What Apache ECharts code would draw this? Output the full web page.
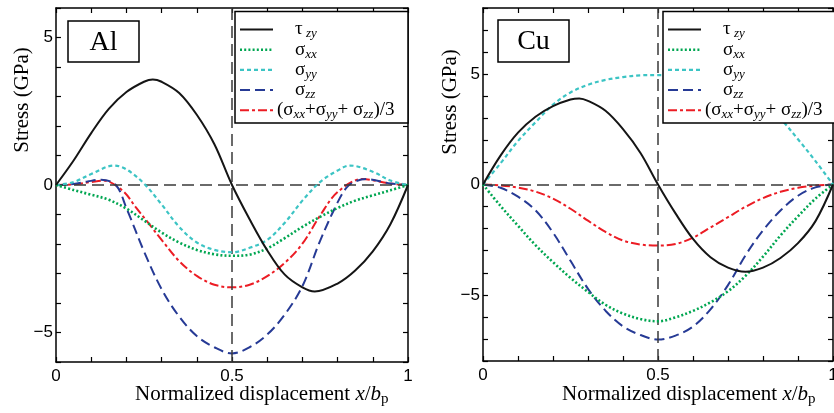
<!DOCTYPE html>
<html><head><meta charset="utf-8">
<script src="https://cdn.jsdelivr.net/npm/echarts@6/dist/echarts.min.js"></script>
<style>html,body{margin:0;padding:0;background:#fff}#c{width:834px;height:413px}</style>
</head><body><div id="c"></div>
<script>
// ---- data ----
// common abscissa (normalized displacement x/b_p)
const X = [0,0.05,0.1,0.15,0.2,0.25,0.3,0.35,0.4,0.45,0.5,0.55,0.6,0.65,0.7,0.75,0.8,0.85,0.9,0.95,1];

// Al panel
const xTauAl  = [0,0.05,0.1,0.15,0.2,0.25,0.275,0.3,0.35,0.4,0.45,0.5,0.55,0.6,0.65,0.7,0.735,0.8,0.85,0.9,0.95,1];
const tauAl   = [0,0.83,1.76,2.58,3.15,3.5,3.58,3.5,3.12,2.38,1.38,0,-1.16,-2.21,-3.04,-3.47,-3.61,-3.34,-2.9,-2.25,-1.33,0];
const sxxAl   = [0,-0.17,-0.33,-0.5,-0.8,-1.2,-1.61,-1.95,-2.2,-2.35,-2.4,-2.36,-2.15,-1.8,-1.42,-1.08,-0.78,-0.53,-0.35,-0.18,0];
const xSyyAl  = [0,0.05,0.1,0.165,0.2,0.25,0.3,0.35,0.4,0.45,0.5,0.55,0.6,0.65,0.7,0.75,0.8,0.835,0.9,0.95,1];
const syyAl   = [0,0.1,0.37,0.66,0.53,0.05,-0.66,-1.42,-1.95,-2.2,-2.28,-2.13,-1.86,-1.28,-0.53,0.1,0.49,0.66,0.45,0.15,0];
const xSzzAl  = [0,0.05,0.09,0.128,0.17,0.2,0.25,0.3,0.35,0.4,0.45,0.5,0.55,0.6,0.65,0.7,0.75,0.8,0.826,0.85,0.883,0.95,1];
const szzAl   = [0,0.03,0.12,0.18,0,-0.78,-2.25,-3.53,-4.46,-5.12,-5.5,-5.71,-5.5,-5.07,-4.39,-3.43,-1.9,-0.59,-0.08,0.12,0.2,0.05,0];
const xMeanAl = [0,0.05,0.1,0.135,0.19,0.227,0.265,0.3,0.35,0.4,0.45,0.5,0.55,0.6,0.65,0.7,0.75,0.8,0.87,0.95,1];
const meanAl  = [0,0.02,0.1,0.15,-0.2,-0.76,-1.33,-1.86,-2.58,-3.08,-3.38,-3.47,-3.38,-3.09,-2.64,-1.99,-1.04,-0.24,0.2,0.05,0];

// Cu panel
const xTauCu  = [0,0.05,0.1,0.15,0.2,0.25,0.275,0.3,0.35,0.4,0.45,0.5,0.55,0.6,0.65,0.7,0.75,0.8,0.85,0.9,0.95,1];
const tauCu   = [0,1.31,2.35,3.07,3.55,3.85,3.9,3.79,3.34,2.51,1.43,0,-1.31,-2.47,-3.3,-3.77,-3.96,-3.77,-3.33,-2.66,-1.66,0];
const sxxCu   = [0,-0.97,-1.87,-2.75,-3.52,-4.23,-4.87,-5.45,-5.85,-6.1,-6.2,-6.02,-5.73,-5.34,-4.84,-4.14,-3.27,-2.31,-1.44,-0.64,0];
const syyCu   = [0,0.96,1.97,2.82,3.62,4.17,4.52,4.74,4.87,4.95,4.96,4.95,4.88,4.77,4.55,4.18,3.65,2.98,2.05,1.06,0];
const szzCu   = [0,-0.15,-0.55,-1.17,-2.18,-3.46,-4.73,-5.72,-6.43,-6.82,-7.03,-6.85,-6.44,-5.66,-4.56,-3.21,-2.08,-1.18,-0.51,-0.13,0];
const meanCu  = [0,-0.04,-0.14,-0.32,-0.64,-1.1,-1.64,-2.15,-2.54,-2.72,-2.77,-2.7,-2.41,-1.95,-1.48,-1.01,-0.62,-0.33,-0.15,-0.05,0];

const seriesNames = ['τ zy','σxx','σyy','σzz','(σxx+σyy+σzz)/3'];
const legendLabels = [
  '{m|τ} {s|zy}',
  '{m|σ}{s|xx}',
  '{m|σ}{s|yy}',
  '{m|σ}{s|zz}',
  '{m|(σ}{s|xx}{m|+σ}{s|yy}{m|+ σ}{s|zz}{m|)/3}'
];
const panelNames = ['Al','Cu'];
const yRanges = [[-6,6],[-8,8]];
const xTickLabels = ['0','0.5','1'];
const yTickLabels = [-5,0,5];

// ---- styles ----
const SERIF = 'Liberation Serif';
const SANS = 'Liberation Sans';
const colors = ['#151515','#00a651','#3cc4c4','#263a95','#ec1c24'];
const widths = [2,2.6,2.2,2,2];
const dashes = [null,[2,2.2],[4,3],[10,5],[9,3,3,3]];

const grids = [
  {left:56, top:8, width:352, height:354},
  {left:483, top:8, width:350, height:353}
];

function xFmt(v){
  const s = String(Math.round(v*10)/10);
  return xTickLabels.indexOf(s) >= 0 ? s : '';
}
function yFmt(v){
  if (yTickLabels.indexOf(v) < 0) return '';
  return v < 0 ? '\u2212' + (-v) : String(v);
}

const xAxis = [], yAxis = [], series = [];
const axLine = {show:true, onZero:false, lineStyle:{color:'#000', width:1.5}};
const axTick = {show:true, inside:true, length:5, lineStyle:{color:'#000', width:1.2}};
grids.forEach((g, gi) => {
  xAxis.push({type:'value', gridIndex:gi, min:0, max:1, interval:0.1, position:'bottom',
    axisLine:axLine, axisTick:axTick, splitLine:{show:false},
    axisLabel:{formatter:xFmt, fontFamily:SANS, fontSize:17, color:'#000', margin:6, showMinLabel:true, showMaxLabel:true, hideOverlap:false}});
  xAxis.push({type:'value', gridIndex:gi, min:0, max:1, interval:0.1, position:'top',
    axisLine:axLine, axisTick:axTick, splitLine:{show:false}, axisLabel:{show:false}});
  const r = yRanges[gi];
  yAxis.push({type:'value', gridIndex:gi, min:r[0], max:r[1], interval:1, position:'left',
    axisLine:axLine, axisTick:axTick, splitLine:{show:false},
    axisLabel:{formatter:yFmt, fontFamily:SANS, fontSize:17, color:'#000', margin:3, showMinLabel:true, showMaxLabel:true, hideOverlap:false}});
  yAxis.push({type:'value', gridIndex:gi, min:r[0], max:r[1], interval:1, position:'right',
    axisLine:axLine, axisTick:axTick, splitLine:{show:false}, axisLabel:{show:false}});
});

const panelData = [
  [[xTauAl, tauAl], [X, sxxAl], [xSyyAl, syyAl], [xSzzAl, szzAl], [xMeanAl, meanAl]],
  [[xTauCu, tauCu], [X, sxxCu], [X, syyCu], [X, szzCu], [X, meanCu]]
];
panelData.forEach((arrs, gi) => {
  arrs.forEach((pair, si) => {
    const xs = pair[0], ys = pair[1];
    const s = {
      name: seriesNames[si] + ' ' + panelNames[gi],
      type:'line', xAxisIndex: gi*2, yAxisIndex: gi*2,
      data: xs.map((x, i) => [x, ys[i]]),
      smooth: 0.35, symbol:'none', silent:true, z: 7 - si,
      lineStyle:{color:colors[si], width:widths[si], type: dashes[si] || 'solid', cap:'butt'}
    };
    if (si === 0) {
      s.markLine = {silent:true, symbol:['none','none'], label:{show:false},
        lineStyle:{color:'#3a3a3a', width:1.5, type:[12,6]},
        data:[{yAxis:0},{xAxis:0.5}]};
    }
    series.push(s);
  });
});

// ---- text / legend graphics ----
const rich = {
  m:{fontFamily:SERIF, fontSize:19, fill:'#000', color:'#000'},
  s:{fontFamily:SERIF, fontSize:13, fontStyle:'italic', fill:'#000', color:'#000', padding:[9,0,0,0]}
};
const graphic = [];
const legendBoxes = [{x:235, y:11.5, w:173, h:111.5},{x:663, y:11.5, w:172, h:111.5}];
const labelBoxes = [{x:68, y:21, w:71, h:41},{x:498, y:20, w:71, h:42}];
const yTitlePos = [{x:22, y:100},{x:450, y:102}];
const xTitlePos = [{x:135, y:394},{x:562, y:394}];

legendBoxes.forEach((b, gi) => {
  graphic.push({type:'rect', z:100, shape:{x:b.x, y:b.y, width:b.w, height:b.h},
    style:{fill:'#fff', stroke:'#000', lineWidth:1.5}});
  seriesNames.forEach((nm, i) => {
    const y = b.y + 18 + i*20.2;
    graphic.push({type:'line', z:101, shape:{x1:b.x+5, y1:y, x2:b.x+38, y2:y},
      style:{stroke:colors[i], lineWidth:widths[i], lineDash:dashes[i]}});
    graphic.push({type:'text', z:101, x: b.x + (i === 4 ? 42 : 60), y: y,
      style:{text:legendLabels[i], rich:rich, align:'left', verticalAlign:'middle'}});
  });
  const lb = labelBoxes[gi];
  graphic.push({type:'rect', z:100, shape:{x:lb.x, y:lb.y, width:lb.w, height:lb.h},
    style:{fill:'#fff', stroke:'#000', lineWidth:1.5}});
  graphic.push({type:'text', z:101, x: lb.x + lb.w/2, y: lb.y + lb.h/2 + 1,
    style:{text:panelNames[gi], fontFamily:SERIF, fontSize:28, fill:'#000', align:'center', verticalAlign:'middle'}});
  const yt = yTitlePos[gi];
  graphic.push({type:'text', z:101, x:yt.x, y:yt.y, rotation:Math.PI/2,
    style:{text:'Stress (GPa)', fontFamily:SERIF, fontSize:21, fill:'#000', align:'center', verticalAlign:'middle'}});
  const xt = xTitlePos[gi];
  graphic.push({type:'text', z:101, x:xt.x, y:xt.y,
    style:{text:'{r|Normalized displacement }{i|x}{r|/}{i|b}{p|p}', align:'left', verticalAlign:'middle',
      rich:{
        r:{fontFamily:SERIF, fontSize:21, fill:'#000'},
        i:{fontFamily:SERIF, fontSize:21, fontStyle:'italic', fill:'#000'},
        p:{fontFamily:SERIF, fontSize:15, fill:'#000', padding:[10,0,0,0]}
      }}});
});

const chart = echarts.init(document.getElementById('c'), null, {renderer:'canvas'});
chart.setOption({
  animation:false,
  backgroundColor:'#fff',
  grid: grids.map(g => Object.assign({containLabel:false, outerBoundsMode:'none'}, g)),
  xAxis, yAxis, series, graphic
});
</script></body></html>
